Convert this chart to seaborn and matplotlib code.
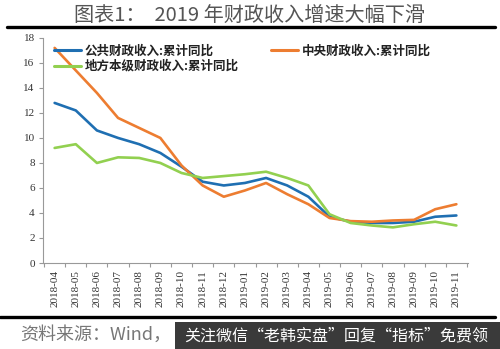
import matplotlib
matplotlib.use("Agg")
import matplotlib.pyplot as plt
import seaborn as sns
import pandas as pd
from matplotlib.lines import Line2D

months = ["2018-04", "2018-05", "2018-06", "2018-07", "2018-08", "2018-09", "2018-10",
          "2018-11", "2018-12", "2019-01", "2019-02", "2019-03", "2019-04", "2019-05",
          "2019-06", "2019-07", "2019-08", "2019-09", "2019-10", "2019-11"]
public_rev = [12.8, 12.2, 10.6, 10.0, 9.5, 8.8, 7.7, 6.5, 6.2, 6.4, 6.8, 6.2, 5.3, 3.7,
              3.3, 3.2, 3.2, 3.3, 3.7, 3.8]
central_rev = [17.2, 15.4, 13.6, 11.6, 10.8, 10.0, 7.8, 6.2, 5.3, 5.8, 6.4, 5.5, 4.7, 3.6,
               3.35, 3.3, 3.4, 3.45, 4.3, 4.7]
local_rev = [9.2, 9.5, 8.0, 8.45, 8.4, 8.0, 7.2, 6.8, 6.95, 7.1, 7.3, 6.8, 6.2, 3.9,
             3.2, 3.0, 2.85, 3.1, 3.3, 3.0]
series_names = ["公共财政收入:累计同比", "中央财政收入:累计同比", "地方本级财政收入:累计同比"]
colors = ["#1F6FB2", "#ED7D31", "#92D050"]
yticks = [0, 2, 4, 6, 8, 10, 12, 14, 16, 18]

sns.set_theme(style="white")
plt.rcParams["font.family"] = ["Noto Sans CJK SC", "DejaVu Sans"]

rows = []
for name, vals in zip(series_names, [public_rev, central_rev, local_rev]):
    for i, (m, v) in enumerate(zip(months, vals)):
        rows.append({"idx": i, "month": m, "value": v, "series": name})
df = pd.DataFrame(rows)

fig = plt.figure(figsize=(5.0, 3.49), dpi=100)
ax = fig.add_axes([0.086, 0.2464, 0.85, 0.645])

sns.lineplot(data=df, x="idx", y="value", hue="series", hue_order=series_names,
             palette=colors, linewidth=1.9, ax=ax, legend=False)

ax.set_xlim(-0.55, 19.55)
ax.set_ylim(0, 18)
ax.set_yticks(yticks)
ax.set_yticklabels([str(t) for t in yticks], family="Liberation Serif", fontsize=8, color="#333333")
ax.set_xticks(range(len(months)))
ax.set_xticklabels(months, rotation=90, family="Liberation Serif", fontsize=8, color="#333333")
ax.set_xticks([i - 0.5 for i in range(len(months) + 1)], minor=True)
ax.tick_params(axis="x", which="major", length=0, pad=5)
ax.tick_params(axis="x", which="minor", length=3, color="#999999", width=0.8, direction="out", bottom=True)
ax.tick_params(axis="y", length=3, color="#999999", width=0.8, direction="out", left=True, pad=3)
ax.set_xlabel("")
ax.set_ylabel("")
for s in ["top", "right"]:
    ax.spines[s].set_visible(False)
for s in ["left", "bottom"]:
    ax.spines[s].set_color("#999999")
    ax.spines[s].set_linewidth(0.8)

handles = [Line2D([], [], color=colors[0], lw=2.2),
           Line2D([], [], color=colors[2], lw=2.2),
           Line2D([], [], color=colors[1], lw=2.2)]
labels = [series_names[0], series_names[2], series_names[1]]
fig.legend(handles, labels, ncol=2, loc="upper left", bbox_to_anchor=(0.085, 0.905),
           frameon=False, prop={"family": ["Noto Sans CJK SC"], "weight": "bold", "size": 9},
           handlelength=2.2, handletextpad=0.25, columnspacing=2.6, labelspacing=0.2,
           labelcolor="#222222")

fig.text(0.5, 0.955, "图表1：  2019 年财政收入增速大幅下滑", ha="center", va="center",
         fontsize=14.5, color="#555555", family=["Noto Sans CJK SC", "DejaVu Sans"])
fig.add_artist(Line2D([0.014, 0.99], [0.923, 0.923], color="black", lw=2.4, transform=fig.transFigure))
fig.add_artist(Line2D([0.0, 0.99], [0.0917, 0.0917], color="black", lw=2.4, transform=fig.transFigure))
fig.text(0.04, 0.04, "资料来源：Wind，", ha="left", va="center", fontsize=13, color="#777777",
         style="italic", family=["Noto Sans CJK SC", "DejaVu Sans"])
fig.patches.append(plt.Rectangle((0.35, 0.0), 0.65, 0.077, transform=fig.transFigure,
                                 facecolor="#3a3a3a", edgecolor="none", zorder=5))
fig.text(0.368, 0.038, "关注微信“老韩实盘”回复“指标”免费领", ha="left", va="center", fontsize=11.5,
         color="white", family=["Noto Sans CJK SC", "DejaVu Sans"], zorder=6)

fig.savefig("out.png", dpi=100)
